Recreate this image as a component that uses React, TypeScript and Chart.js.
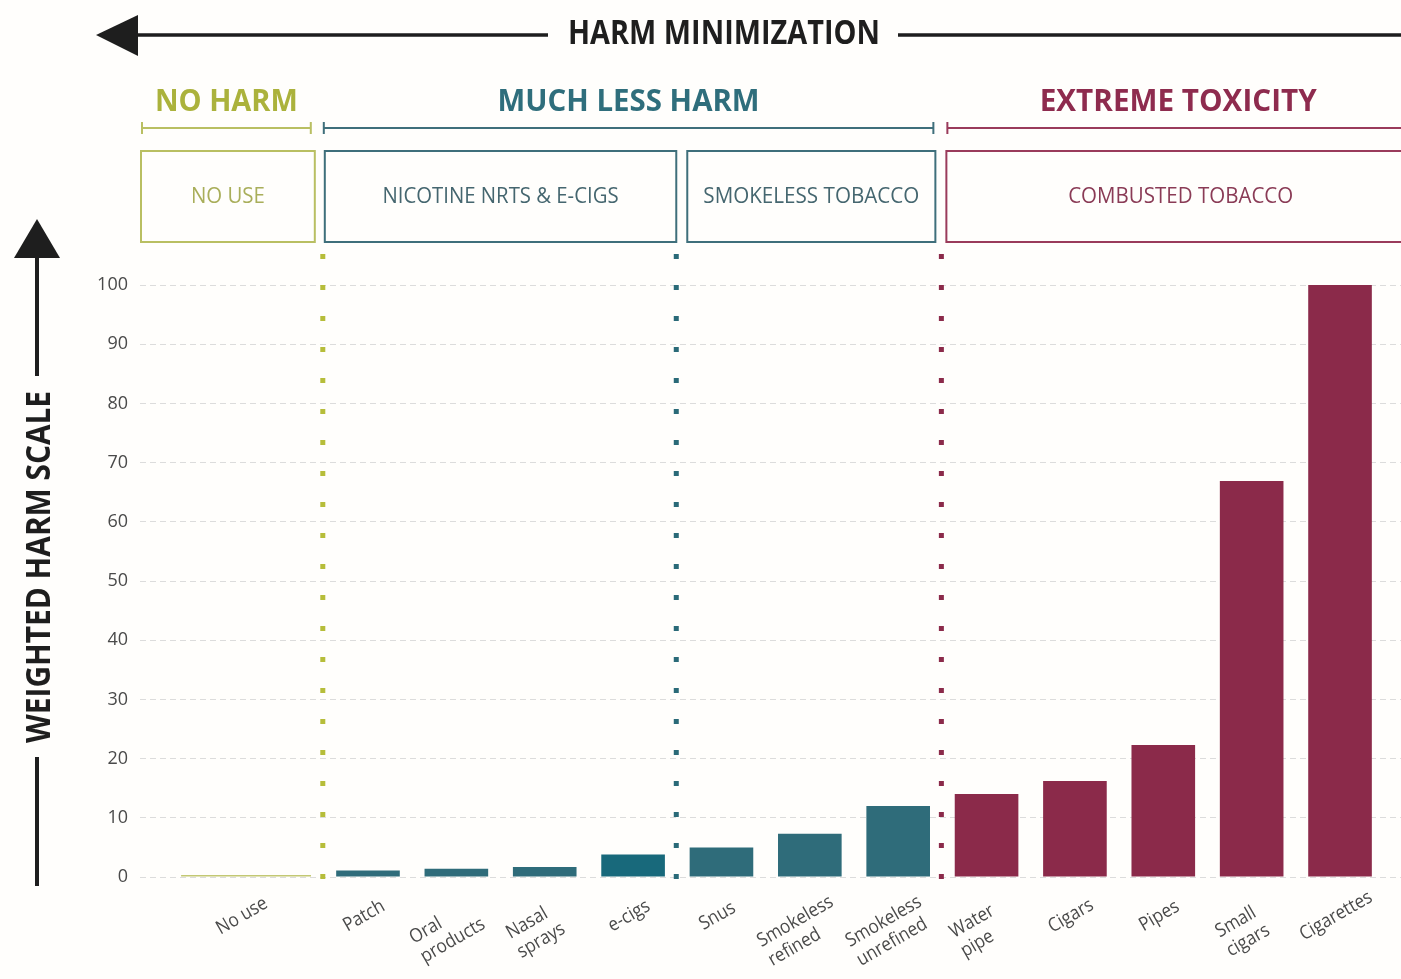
import React, { useEffect, useRef } from 'react';
import { Chart, registerables } from 'chart.js';

Chart.register(...registerables);

// ---------- data ----------
const categories: string[][] = [
  ['No use'],
  ['Patch'],
  ['Oral', 'products'],
  ['Nasal', 'sprays'],
  ['e-cigs'],
  ['Snus'],
  ['Smokeless', 'refined'],
  ['Smokeless', 'unrefined'],
  ['Water', 'pipe'],
  ['Cigars'],
  ['Pipes'],
  ['Small', 'cigars'],
  ['Cigarettes'],
];
const harmValues = [0, 1.1, 1.4, 1.7, 3.8, 5.0, 7.3, 12.0, 14.0, 16.2, 22.3, 66.9, 100];
const productGroup = [
  'none', 'nicotine', 'nicotine', 'nicotine', 'nicotine',
  'smokeless', 'smokeless', 'smokeless',
  'combusted', 'combusted', 'combusted', 'combusted', 'combusted',
];
const yTickValues = [0, 10, 20, 30, 40, 50, 60, 70, 80, 90, 100];

const harmBands = [
  { title: 'NO HARM', first: 0, last: 0, tone: 'none' },
  { title: 'MUCH LESS HARM', first: 1, last: 7, tone: 'nicotine' },
  { title: 'EXTREME TOXICITY', first: 8, last: 12, tone: 'combusted' },
];
const productBoxes = [
  { title: 'NO USE', first: 0, last: 0, tone: 'none' },
  { title: 'NICOTINE NRTS & E-CIGS', first: 1, last: 4, tone: 'nicotine' },
  { title: 'SMOKELESS TOBACCO', first: 5, last: 7, tone: 'nicotine' },
  { title: 'COMBUSTED TOBACCO', first: 8, last: 12, tone: 'combusted' },
];
const dividers = [
  { after: 0, tone: 'none' },
  { after: 4, tone: 'nicotine' },
  { after: 7, tone: 'combusted' },
];

// ---------- styles ----------
const barColors: Record<string, string> = {
  none: '#c3c873',
  nicotine: '#2f6c7a',
  smokeless: '#2f6c7a',
  combusted: '#8b2a4a',
};
const highlightBar: Record<string, string> = { 'e-cigs': '#18697b' };
const titleColors: Record<string, string> = {
  none: '#abb23c',
  nicotine: '#2f6e7c',
  combusted: '#8e2b4e',
};
const lineColors: Record<string, string> = {
  none: '#b9bf62',
  nicotine: '#3f6f7b',
  combusted: '#9a3b5b',
};
const boxTextColors: Record<string, string> = {
  none: '#a9ae5a',
  nicotine: '#45666f',
  combusted: '#8a3b56',
};
const dotColors: Record<string, string> = {
  none: '#b6bd3a',
  nicotine: '#2a6a78',
  combusted: '#8b2a4a',
};
// pixel gaps [left side, right side] around each divider
const boxGaps: Record<number, number[]> = { 0: [-9, 1], 4: [-1, 10], 7: [-7, 4] };
const bracketGaps: Record<number, number[]> = { 0: [-13, 0], 7: [-9, 5] };
const titleWidths: Record<string, number> = { 'NO HARM': 143, 'MUCH LESS HARM': 262, 'EXTREME TOXICITY': 277 };
const boxTextWidths: Record<string, number> = {
  'NO USE': 74,
  'NICOTINE NRTS & E-CIGS': 236,
  'SMOKELESS TOBACCO': 216,
  'COMBUSTED TOBACCO': 225,
};

const W = 1401;
const H = 979;
const NO_USE_CENTER = -0.38;
const xPos = (i: number) => (i === 0 ? NO_USE_CENTER : i);

function fitText(
  ctx: CanvasRenderingContext2D,
  text: string,
  cx: number,
  cy: number,
  font: string,
  color: string,
  width: number,
  rotate = 0
) {
  ctx.save();
  ctx.font = font;
  ctx.fillStyle = color;
  ctx.textAlign = 'center';
  ctx.textBaseline = 'middle';
  const m = ctx.measureText(text).width;
  ctx.translate(cx, cy);
  if (rotate) ctx.rotate(rotate);
  ctx.scale(width / m, 1);
  ctx.fillText(text, 0, 0);
  ctx.restore();
}

const decorations = {
  id: 'decorations',
  beforeDraw(chart: any) {
    const ctx = chart.ctx as CanvasRenderingContext2D;
    ctx.save();
    ctx.fillStyle = '#fffefc';
    ctx.fillRect(0, 0, chart.width, chart.height);
    ctx.restore();
  },
  afterDraw(chart: any) {
    const ctx = chart.ctx as CanvasRenderingContext2D;
    const x = chart.scales.x;
    const area = chart.chartArea;
    const n = categories.length;
    const divPx = (after: number) => x.getPixelForValue(after + 0.5);

    // top arrow: HARM MINIMIZATION
    ctx.save();
    ctx.strokeStyle = '#1e1e1e';
    ctx.fillStyle = '#1e1e1e';
    ctx.lineWidth = 3.5;
    ctx.beginPath();
    ctx.moveTo(130, 35);
    ctx.lineTo(548, 35);
    ctx.moveTo(898, 35);
    ctx.lineTo(W, 35);
    ctx.stroke();
    ctx.beginPath();
    ctx.moveTo(96, 35);
    ctx.lineTo(138, 15);
    ctx.lineTo(138, 56);
    ctx.closePath();
    ctx.fill();
    ctx.restore();
    fitText(ctx, 'HARM MINIMIZATION', 724, 34, 'bold 34px "Open Sans"', '#1e1e1e', 312);

    // left arrow: WEIGHTED HARM SCALE
    ctx.save();
    ctx.strokeStyle = '#1e1e1e';
    ctx.fillStyle = '#1e1e1e';
    ctx.lineWidth = 4;
    ctx.beginPath();
    ctx.moveTo(37, 250);
    ctx.lineTo(37, 376);
    ctx.moveTo(37, 757);
    ctx.lineTo(37, 886);
    ctx.stroke();
    ctx.beginPath();
    ctx.moveTo(37, 219);
    ctx.lineTo(60, 258);
    ctx.lineTo(14, 258);
    ctx.closePath();
    ctx.fill();
    ctx.restore();
    fitText(ctx, 'WEIGHTED HARM SCALE', 40, 567, 'bold 34px "Open Sans"', '#1e1e1e', 352, -Math.PI / 2);

    // harm bands: titles + brackets
    harmBands.forEach((b) => {
      const bl = b.first === 0 ? area.left + 2 : divPx(b.first - 1) + bracketGaps[b.first - 1][1];
      const br = b.last === n - 1 ? area.right : divPx(b.last) + bracketGaps[b.last][0];
      const cx = b.last === n - 1 ? (bl + area.right + 8) / 2 : (bl + br) / 2;
      fitText(ctx, b.title, cx, 102, 'bold 31px "Open Sans"', titleColors[b.tone], titleWidths[b.title]);
      ctx.save();
      ctx.strokeStyle = lineColors[b.tone];
      ctx.lineWidth = 2;
      ctx.beginPath();
      ctx.moveTo(bl, 128);
      ctx.lineTo(br, 128);
      ctx.moveTo(bl, 122);
      ctx.lineTo(bl, 134);
      if (b.last !== n - 1) {
        ctx.moveTo(br, 122);
        ctx.lineTo(br, 134);
      }
      ctx.stroke();
      ctx.restore();
    });

    // product boxes
    productBoxes.forEach((b) => {
      const bl = b.first === 0 ? area.left + 1 : divPx(b.first - 1) + boxGaps[b.first - 1][1];
      const br = b.last === n - 1 ? area.right + 14 : divPx(b.last) + boxGaps[b.last][0];
      ctx.save();
      ctx.strokeStyle = lineColors[b.tone];
      ctx.lineWidth = 2;
      ctx.strokeRect(bl, 151, br - bl, 91);
      ctx.restore();
      fitText(ctx, b.title, (bl + br) / 2, 197, '22px "Open Sans"', boxTextColors[b.tone], boxTextWidths[b.title]);
    });

    // dotted dividers
    dividers.forEach((d) => {
      const px = divPx(d.after) - 1;
      ctx.save();
      ctx.strokeStyle = dotColors[d.tone];
      ctx.lineWidth = 5;
      ctx.setLineDash([5, 26]);
      ctx.beginPath();
      ctx.moveTo(px, 254);
      ctx.lineTo(px, area.bottom + 4);
      ctx.stroke();
      ctx.restore();
    });

    // category labels, rotated, centred under each tick
    ctx.save();
    ctx.fillStyle = '#4a4a4a';
    ctx.font = '19px "Open Sans"';
    ctx.textBaseline = 'middle';
    ctx.textAlign = 'left';
    const squeeze = 0.9;
    const lh = 22;
    categories.forEach((lines, i) => {
      const extra = lines.length - 1;
      const px = x.getPixelForValue(xPos(i)) - 4 - extra * 5;
      const py = area.bottom + 39 + extra * 15;
      const maxW = Math.max(...lines.map((l) => ctx.measureText(l).width * squeeze));
      ctx.save();
      ctx.translate(px, py);
      ctx.rotate(-Math.PI / 6);
      lines.forEach((l, k) => {
        ctx.save();
        ctx.translate(-maxW / 2, (k - extra / 2) * lh);
        ctx.scale(squeeze, 1);
        ctx.fillText(l, 0, 0);
        ctx.restore();
      });
      ctx.restore();
    });
    ctx.restore();
  },
};

export default function App() {
  const ref = useRef<HTMLCanvasElement | null>(null);

  useEffect(() => {
    if (!ref.current) return;
    const noUseData = [{ x: xPos(0), y: harmValues[0] }];
    const productData = harmValues.slice(1).map((v, k) => ({ x: xPos(k + 1), y: v }));
    const productColors = productGroup
      .slice(1)
      .map((g, k) => highlightBar[categories[k + 1][0]] || barColors[g]);

    const chart = new Chart(ref.current, {
      type: 'bar',
      data: {
        datasets: [
          {
            label: 'No use',
            data: noUseData as any,
            backgroundColor: barColors.none,
            grouped: false,
            categoryPercentage: 1,
            barPercentage: 1.47,
            minBarLength: 2,
          } as any,
          {
            label: 'Products',
            data: productData as any,
            backgroundColor: productColors,
            grouped: false,
            categoryPercentage: 0.8,
            barPercentage: 0.9,
          } as any,
        ],
      },
      options: {
        animation: false,
        responsive: false,
        layout: { padding: { top: 285, left: 0, right: 0, bottom: 0 } },
        plugins: {
          legend: { display: false },
          tooltip: { enabled: false },
          title: { display: false },
        },
        scales: {
          x: {
            type: 'linear',
            min: -1.58,
            max: 12.69,
            offset: false,
            grid: { display: false },
            border: { display: false },
            afterBuildTicks: (scale: any) => {
              scale.ticks = categories.map((_, i) => ({ value: xPos(i) }));
            },
            afterFit: (scale: any) => {
              scale.height = H - 877;
            },
            ticks: {
              display: false,
              autoSkip: false,
              callback: (_v: any, index: number) => categories[index],
            },
          },
          y: {
            type: 'linear',
            min: 0,
            max: 100,
            afterBuildTicks: (scale: any) => {
              scale.ticks = yTickValues.map((v) => ({ value: v }));
            },
            afterFit: (scale: any) => {
              scale.width = 140;
            },
            grid: { color: '#dcdcdc', lineWidth: 1, drawTicks: false },
            border: { display: false, dash: [6, 4] },
            ticks: {
              padding: 12,
              color: '#4a4a4a',
              font: { family: '"Open Sans"', size: 18 },
            },
          },
        },
      } as any,
      plugins: [decorations],
    });
    return () => chart.destroy();
  }, []);

  return (
    <div style={{ position: 'fixed', left: 0, top: 0, width: W, height: H }}>
      <canvas ref={ref} width={W} height={H} style={{ display: 'block' }} />
    </div>
  );
}
